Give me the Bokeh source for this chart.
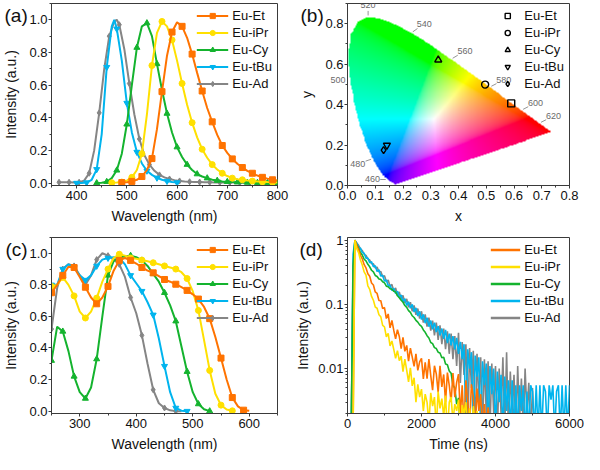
import numpy as np
from bokeh.plotting import figure
from bokeh.layouts import gridplot
from bokeh.models import (Range1d, SingleIntervalTicker, PrintfTickFormatter, Legend,
                          LegendItem, Label, LogTicker, CustomJSTickFormatter, Title)
from bokeh.embed import file_html
from bokeh.resources import INLINE

FONT = "Liberation Sans"
SERIES = ["Eu-Et", "Eu-iPr", "Eu-Cy", "Eu-tBu", "Eu-Ad"]
COLORS = ["#FF7300", "#FFE000", "#14B32E", "#00B4EE", "#858585"]
MARKERS = ["square", "circle", "triangle", "inverted_triangle", "diamond"]
PANEL_TAGS = ["(a)", "(b)", "(c)", "(d)"]

# ---------------- (a) emission spectra ----------------
EM_WL_ET = list(range(490, 801, 10))
EM_ET = [0.003, 0.005, 0.01, 0.02, 0.04, 0.08, 0.15, 0.33, 0.56, 0.78, 0.925, 0.985, 0.96, 0.89,
         0.79, 0.675, 0.564, 0.46, 0.375, 0.295, 0.23, 0.185, 0.148, 0.118, 0.095, 0.075, 0.06,
         0.046, 0.035, 0.027, 0.02, 0.016]
EM_WL_IPR = list(range(470, 801, 10))
EM_IPR = [0.002, 0.003, 0.006, 0.015, 0.035, 0.08, 0.18, 0.42, 0.72, 0.92, 0.99, 0.96, 0.877, 0.75,
          0.61, 0.48, 0.37, 0.28, 0.207, 0.155, 0.113, 0.083, 0.06, 0.043, 0.03, 0.024, 0.02, 0.015,
          0.012, 0.01, 0.008, 0.006, 0.005, 0.004]
EM_WL_CY = list(range(440, 801, 10))
EM_CY = [0.0, 0.002, 0.008, 0.03, 0.078, 0.18, 0.36, 0.6, 0.83, 0.96, 0.98, 0.9, 0.73, 0.57, 0.426,
         0.31, 0.22, 0.16, 0.113, 0.08, 0.055, 0.04, 0.03, 0.02, 0.015, 0.01, 0.008, 0.006, 0.005,
         0.004, 0.003, 0.003, 0.002, 0.002, 0.002, 0.001, 0.001]
EM_WL_TBU = [400, 410, 420, 430, 440, 450, 460, 470, 475, 480, 490, 500, 510, 520, 530, 540, 550,
             560, 570, 580, 590, 600]
EM_TBU = [0.0, 0.0, 0.003, 0.02, 0.084, 0.3, 0.71, 0.96, 1.0, 0.945, 0.75, 0.49, 0.31, 0.19, 0.12,
          0.075, 0.05, 0.032, 0.02, 0.012, 0.006, 0.003]
EM_WL_AD = [365, 375, 385, 395, 405, 415, 425, 435, 445, 455, 465, 475, 480, 485, 495, 505, 515, 525,
            535, 545, 555, 565, 575, 585, 595, 605, 615, 625, 635, 645, 655, 665, 675, 685, 695, 705,
            715, 725, 735, 745]
EM_AD = [0.005, 0.005, 0.005, 0.004, 0.005, 0.015, 0.06, 0.2, 0.43, 0.7, 0.9, 0.99, 1.0, 0.97, 0.82,
         0.61, 0.42, 0.27, 0.17, 0.113, 0.075, 0.05, 0.035, 0.025, 0.018, 0.013, 0.01, 0.008, 0.007,
         0.006, 0.005, 0.005, 0.004, 0.004, 0.003, 0.003, 0.003, 0.002, 0.002, 0.002]

# ---------------- (b) CIE coordinates ----------------
CIE_X = [0.59, 0.496, 0.327, 0.142, 0.130]
CIE_Y = [0.406, 0.499, 0.621, 0.199, 0.175]
LOCUS_WL = [380, 390, 400, 410, 420, 430, 440, 450, 460, 470, 475, 480, 485, 490, 495, 500, 505, 510,
            515, 520, 525, 530, 535, 540, 545, 550, 555, 560, 565, 570, 575, 580, 585, 590, 595, 600,
            610, 620, 630, 640, 650, 700]
LOCUS_X = [0.1741, 0.1738, 0.1733, 0.1726, 0.1714, 0.1689, 0.1644, 0.1566, 0.1440, 0.1241, 0.1096,
           0.0913, 0.0687, 0.0454, 0.0235, 0.0082, 0.0039, 0.0139, 0.0389, 0.0743, 0.1142, 0.1547,
           0.1929, 0.2296, 0.2658, 0.3016, 0.3373, 0.3731, 0.4087, 0.4441, 0.4788, 0.5125, 0.5448,
           0.5752, 0.6029, 0.6270, 0.6658, 0.6915, 0.7079, 0.7190, 0.7260, 0.7347]
LOCUS_Y = [0.0050, 0.0049, 0.0048, 0.0048, 0.0051, 0.0069, 0.0109, 0.0177, 0.0297, 0.0578, 0.0868,
           0.1327, 0.2007, 0.2950, 0.4127, 0.5384, 0.6548, 0.7502, 0.8120, 0.8338, 0.8262, 0.8059,
           0.7816, 0.7543, 0.7243, 0.6923, 0.6589, 0.6245, 0.5896, 0.5547, 0.5202, 0.4866, 0.4544,
           0.4242, 0.3965, 0.3725, 0.3340, 0.3083, 0.2920, 0.2809, 0.2740, 0.2653]
WL_MARKS = [460, 480, 520, 540, 560, 580, 600, 620]
WL_LABEL_OFFSETS = [(-15, 0), (-15, -5), (0, 12), (13, 9), (14, 8), (14, 7), (14, 7), (14, 7)]
WL_OUTSIDE = "500"

# ---------------- (c) excitation spectra ----------------
EX_WL_ET = list(range(250, 601, 10))
EX_ET = [0.75, 0.8, 0.86, 0.915, 0.91, 0.85, 0.785, 0.72, 0.68, 0.72, 0.79, 0.89, 0.955, 0.97, 0.955,
         0.935, 0.91, 0.89, 0.876, 0.855, 0.834, 0.82, 0.804, 0.785, 0.765, 0.74, 0.71, 0.66, 0.586,
         0.47, 0.336, 0.2, 0.086, 0.03, 0.006, 0.002]
EX_WL_IPR = list(range(250, 571, 10))
EX_IPR = [0.79, 0.8, 0.847, 0.8, 0.73, 0.63, 0.59, 0.63, 0.716, 0.82, 0.9, 0.97, 0.994, 0.985, 0.97,
          0.965, 0.957, 0.95, 0.94, 0.93, 0.92, 0.91, 0.9, 0.88, 0.84, 0.76, 0.638, 0.45, 0.258, 0.11,
          0.038, 0.01, 0.002]
EX_WL_CY = list(range(250, 531, 10))
EX_CY = [0.32, 0.535, 0.505, 0.38, 0.22, 0.12, 0.08, 0.15, 0.33, 0.6, 0.86, 0.95, 0.975, 0.98, 0.985,
         0.975, 0.955, 0.92, 0.87, 0.82, 0.75, 0.67, 0.57, 0.41, 0.25, 0.12, 0.045, 0.012, 0.0]
EX_WL_TBU = list(range(250, 491, 10))
EX_TBU = [0.8, 0.8, 0.9, 0.93, 0.91, 0.86, 0.83, 0.86, 0.92, 0.96, 0.97, 0.975, 0.97, 0.93, 0.86,
          0.81, 0.76, 0.69, 0.61, 0.46, 0.285, 0.12, 0.02, 0.003, 0.0]
EX_WL_AD = list(range(250, 481, 10))
EX_AD = [0.52, 0.78, 0.9, 0.93, 0.92, 0.86, 0.8, 0.86, 0.96, 1.0, 0.985, 0.96, 0.93, 0.85, 0.72, 0.62,
         0.48, 0.3, 0.135, 0.05, 0.02, 0.005, 0.0, 0.0]

# ---------------- (d) decay curves (intensity x 1e-4, one value per 50 ns) ----------------
TIME_STEP_NS = 50
DECAY_ET = [10, 10, 10, 10, 10000, 8300, 7150, 5800, 5100, 4150,
            3700, 3000, 2750, 2150, 2000, 1560, 1480, 1150, 1140, 860,
            894, 602, 710, 430, 562, 396, 290, 404, 317, 204,
            307, 186, 230, 131, 208, 151, 108, 170, 94, 127,
            145, 69, 125, 70, 141, 78, 46, 111, 83, 43,
            111, 52, 81, 30, 87, 55, 30, 85, 36, 61,
            82, 19, 55, 11, 66, 30, 13, 57, 36, 10,
            49, 22, 40, 10, 28, 10, 25, 10]
DECAY_IPR = [10, 10, 10, 10, 10000, 7400, 6400, 4900, 4100, 3200,
             2850, 1950, 1720, 1330, 1160, 910, 870, 690, 640, 470,
             448, 312, 354, 226, 269, 199, 145, 190, 133, 156,
             90, 140, 95, 62, 103, 54, 72, 30, 57, 36,
             48, 22, 40, 30, 14, 42, 26, 36, 12, 44,
             24, 34, 18, 38, 10, 30, 36, 15, 28, 22,
             33, 10, 27, 20, 30, 10, 24, 10, 26, 14,
             22, 10, 20, 10]
DECAY_CY = [10, 10, 10, 4000, 10000, 8400, 7500, 6350, 5850, 5050, 4750, 4200, 3850, 3400, 3200, 2820,
            2720, 2480, 2450, 2250, 2160, 1920, 1880, 1750, 1720, 1600, 1560, 1360, 1270, 1160, 1080,
            960, 900, 800, 750, 665, 625, 565, 530, 480, 455, 400, 368, 325, 300, 255, 245, 212, 205,
            180, 175, 148, 150, 118, 115, 92, 85, 55, 50, 28, 35, 10]
DECAY_TBU = [10, 10, 10, 6000, 9700, 9000, 7700, 7500, 6400, 6250,
             5250, 5250, 4450, 4600, 3850, 4000, 3250, 3450, 2750, 2850,
             2300, 2400, 1950, 2000, 1650, 1780, 1480, 1600, 1280, 1400,
             1100, 1230, 960, 1100, 870, 1000, 760, 880, 660, 780,
             580, 700, 510, 620, 450, 560, 410, 520, 370, 460,
             330, 420, 290, 400, 250, 350, 230, 320, 200, 300,
             170, 260, 140, 240, 10, 200, 100, 180, 10, 160,
             75, 150, 10, 130, 55, 120, 10, 110, 40, 100,
             10, 90, 30, 80, 10, 75, 22, 66, 10, 66,
             10, 55, 10, 55, 22, 55, 10, 44, 10, 55,
             44, 10, 55, 10, 55, 10, 55, 44, 10, 55,
             33, 55, 10, 44, 55, 10, 55, 10, 55, 10,
             55]
DECAY_AD = [10, 10, 10, 3000, 10000, 9000, 8300, 7300, 6900, 6000,
            5800, 5100, 4900, 4300, 4300, 3700, 3800, 3200, 3250, 2700,
            2800, 2250, 2400, 1900, 2050, 1600, 1800, 1380, 1560, 1200,
            1380, 1050, 1220, 900, 1080, 780, 960, 690, 860, 600,
            780, 520, 700, 450, 620, 390, 560, 330, 520, 280,
            470, 240, 420, 200, 380, 170, 350, 140, 320, 110,
            360, 60, 260, 80, 240, 10, 210, 50, 190, 10,
            170, 30, 150, 10, 140, 20, 130, 10, 120, 20,
            110, 10, 100, 20, 150, 10, 180, 10, 90, 20,
            80, 10, 110, 15, 70, 10, 100, 20, 60, 10,
            50, 10]

AX = "#3a3a3a"
TXT = "#111111"


def make_fig(xr, yr, left, right, top, bottom, y_type="linear"):
    p = figure(width=292, height=227, output_backend="svg", toolbar_location=None,
               x_range=xr, y_range=yr, y_axis_type=y_type,
               min_border_left=left, min_border_right=right,
               min_border_top=top, min_border_bottom=bottom)
    p.grid.visible = False
    p.outline_line_color = AX
    p.outline_line_width = 1
    p.outline_line_alpha = 1
    p.background_fill_color = "white"
    p.border_fill_color = "white"
    for ax in (p.xaxis[0], p.yaxis[0]):
        ax.axis_line_color = AX
        ax.major_tick_line_color = AX
        ax.minor_tick_line_color = AX
        ax.major_tick_in = 0
        ax.major_tick_out = 3
        ax.minor_tick_in = 0
        ax.minor_tick_out = 2
        ax.major_label_text_font = FONT
        ax.major_label_text_font_size = "13px"
        ax.major_label_text_color = TXT
        ax.axis_label_text_font = FONT
        ax.axis_label_text_font_size = "14px"
        ax.axis_label_text_font_style = "normal"
        ax.axis_label_text_color = TXT
    p.xaxis.major_label_standoff = 2
    p.yaxis.major_label_standoff = 1
    p.xaxis.axis_label_standoff = 5
    p.yaxis.axis_label_standoff = 7
    return p


def add_legend(p, items, glyph_width, standoff=4, margin=3, padding=2, spacing=2):
    lg = Legend(items=items, location="top_right", border_line_alpha=0, background_fill_alpha=0,
                label_text_font=FONT, label_text_font_size="13px", label_text_color=TXT,
                glyph_width=glyph_width, glyph_height=13, label_height=13, spacing=spacing,
                padding=padding, margin=margin, label_standoff=standoff)
    p.add_layout(lg)


def side_text(p, text, offset, n_lines, line_px, size, color):
    # a zero-height title above the frame whose last line hangs down beside the frame
    body = "\n".join(["\u00a0"] * (n_lines - 1) + [text])
    t = Title(text=body, align="left", offset=offset, vertical_align="bottom",
              standoff=-(2 + n_lines * line_px), text_font=FONT, text_font_size=size,
              text_font_style="normal", text_color=color)
    p.add_layout(t, "above")


def spectra_panel(p, wls, vals):
    rends = {}
    for i in reversed(range(len(SERIES))):
        wl, v = wls[i], vals[i]
        r1 = p.line(wl, v, line_color=COLORS[i], line_width=2)
        mx = [w for w in wl if (w - wl[0]) % 20 == 0]
        my = [y for w, y in zip(wl, v) if (w - wl[0]) % 20 == 0]
        r2 = p.scatter(mx, my, marker=MARKERS[i], size=6, fill_color=COLORS[i], line_color=COLORS[i])
        rends[i] = [r1, r2]
    items = [LegendItem(label=SERIES[i], renderers=rends[i]) for i in range(len(SERIES))]
    add_legend(p, items, glyph_width=32)


# ---------------- panel (a) ----------------
pa = make_fig(Range1d(350, 800), Range1d(-0.015, 1.1), 49, 13, 3, 41)
pa.xaxis.ticker = SingleIntervalTicker(interval=100, num_minor_ticks=2)
pa.yaxis.ticker = SingleIntervalTicker(interval=0.2, num_minor_ticks=2)
pa.yaxis.formatter = PrintfTickFormatter(format="%.1f")
pa.xaxis.axis_label = "Wavelength (nm)"
pa.yaxis.axis_label = "Intensity (a.u.)"
spectra_panel(pa, [EM_WL_ET, EM_WL_IPR, EM_WL_CY, EM_WL_TBU, EM_WL_AD],
              [EM_ET, EM_IPR, EM_CY, EM_TBU, EM_AD])
side_text(pa, PANEL_TAGS[0], -47, 2, 21.5, "19px", TXT)

# ---------------- panel (b) ----------------
pb = make_fig(Range1d(0, 0.8), Range1d(0, 0.9), 49, 13, 2, 42)
pb.xaxis.ticker = SingleIntervalTicker(interval=0.1, num_minor_ticks=2)
pb.yaxis.ticker = SingleIntervalTicker(interval=0.2, num_minor_ticks=2)
pb.xaxis.formatter = PrintfTickFormatter(format="%.1f")
pb.yaxis.formatter = PrintfTickFormatter(format="%.1f")
pb.xaxis.axis_label = "x"
pb.yaxis.axis_label = "y"

NX, NY = 320, 360
gx = (np.arange(NX) + 0.5) / NX * 0.8
gy = (np.arange(NY) + 0.5) / NY * 0.9
GX, GY = np.meshgrid(gx, gy)
inside = np.zeros(GX.shape, dtype=bool)
n = len(LOCUS_X)
j = n - 1
for i in range(n):
    xi, yi, xj, yj = LOCUS_X[i], LOCUS_Y[i], LOCUS_X[j], LOCUS_Y[j]
    if yi != yj:
        cond = ((yi > GY) != (yj > GY)) & (GX < (xj - xi) * (GY - yi) / (yj - yi) + xi)
        inside ^= cond
    j = i
Xc = GX / GY
Zc = (1 - GX - GY) / GY
R = 3.2406 * Xc - 1.5372 - 0.4986 * Zc
G = -0.9689 * Xc + 1.8758 + 0.0415 * Zc
B = 0.0557 * Xc - 0.2040 + 1.0570 * Zc
rgb = np.clip(np.stack([R, G, B], axis=-1), 0, None)
rgb = rgb / np.maximum(rgb.max(axis=-1, keepdims=True), 1e-9)
srgb = np.where(rgb <= 0.0031308, 12.92 * rgb, 1.055 * np.power(rgb, 1 / 2.4) - 0.055)
img = np.zeros((NY, NX), dtype=np.uint32)
view = img.view(dtype=np.uint8).reshape((NY, NX, 4))
view[..., 0] = (srgb[..., 0] * 255).astype(np.uint8)
view[..., 1] = (srgb[..., 1] * 255).astype(np.uint8)
view[..., 2] = (srgb[..., 2] * 255).astype(np.uint8)
view[..., 3] = np.where(inside, 255, 0).astype(np.uint8)
pb.image_rgba(image=[img], x=0, y=0, dw=0.8, dh=0.9)

fw_b, fh_b = 292 - 49 - 13, 227 - 2 - 42
ppx, ppy = fw_b / 0.8, fh_b / 0.9
sx0, sy0, sx1, sy1 = [], [], [], []
for wl, (dx, dy) in zip(WL_MARKS, WL_LABEL_OFFSETS):
    k = LOCUS_WL.index(wl)
    lx, ly = LOCUS_X[k], LOCUS_Y[k]
    sx0.append(lx + 0.12 * dx / ppx)
    sy0.append(ly + 0.12 * dy / ppy)
    sx1.append(lx + 0.5 * dx / ppx)
    sy1.append(ly + 0.5 * dy / ppy)
    pb.add_layout(Label(x=lx, y=ly, x_offset=dx, y_offset=dy, text=str(wl), text_font=FONT,
                        text_font_size="9px", text_color="#6a6a6a", text_align="center",
                        text_baseline="middle"))
pb.segment(sx0, sy0, sx1, sy1, line_color="#7a7a7a", line_width=0.8)
# the 500 nm mark sits just outside the frame, left of the locus
k500 = LOCUS_WL.index(500)
lines_500 = int(round((2 + (0.9 - LOCUS_Y[k500]) * ppy + 5) * 2 / 10.05))
side_text(pb, WL_OUTSIDE, -17, lines_500, 10.05, "9px", "#6a6a6a")

b_items = []
for i in range(len(SERIES)):
    r = pb.scatter([CIE_X[i]], [CIE_Y[i]], marker=MARKERS[i], size=7, fill_alpha=0,
                   line_color="black", line_width=1.4)
    b_items.append(LegendItem(label=SERIES[i], renderers=[r]))
add_legend(pb, b_items, glyph_width=18, standoff=8)
side_text(pb, PANEL_TAGS[1], -47, 2, 21.5, "19px", TXT)

# ---------------- panel (c) ----------------
pc = make_fig(Range1d(250, 650), Range1d(-0.015, 1.1), 48, 15, 8, 34)
pc.xaxis.ticker = SingleIntervalTicker(interval=100, num_minor_ticks=2)
pc.yaxis.ticker = SingleIntervalTicker(interval=0.2, num_minor_ticks=2)
pc.yaxis.formatter = PrintfTickFormatter(format="%.1f")
pc.xaxis.axis_label = "Wavelength (nm)"
pc.yaxis.axis_label = "Intensity (a.u.)"
spectra_panel(pc, [EX_WL_ET, EX_WL_IPR, EX_WL_CY, EX_WL_TBU, EX_WL_AD],
              [EX_ET, EX_IPR, EX_CY, EX_TBU, EX_AD])
side_text(pc, PANEL_TAGS[2], -46, 2, 21.5, "19px", TXT)

# ---------------- panel (d) ----------------
pdd = make_fig(Range1d(0, 6000), Range1d(0.002, 1.1), 50, 15, 10, 35, y_type="log")
pdd.xaxis.ticker = SingleIntervalTicker(interval=2000, num_minor_ticks=2)
pdd.yaxis.ticker = LogTicker(num_minor_ticks=10)
pdd.yaxis.formatter = CustomJSTickFormatter(code="return tick.toPrecision(1);")
pdd.xaxis.axis_label = "Time (ns)"
pdd.yaxis.axis_label = "Intensity (a.u.)"
pdd.yaxis.axis_label_standoff = 4
decays = [DECAY_ET, DECAY_IPR, DECAY_CY, DECAY_TBU, DECAY_AD]
for i in [4, 3, 2, 0, 1]:
    d = np.array(decays[i], dtype=float) / 10000.0
    t = np.arange(len(d)) * TIME_STEP_NS
    pdd.line(t, d, line_color=COLORS[i], line_width=1.6)
d_items = []
for i in range(len(SERIES)):
    r = pdd.line(x=[np.nan, np.nan], y=[np.nan, np.nan], line_color=COLORS[i], line_width=2.6)
    d_items.append(LegendItem(label=SERIES[i], renderers=[r]))
add_legend(pdd, d_items, glyph_width=30)
side_text(pdd, PANEL_TAGS[3], -48, 2, 21.5, "19px", TXT)

grid = gridplot([[pa, pb], [pc, pdd]], toolbar_location=None)
open("out.html", "w").write(file_html(grid, INLINE))
